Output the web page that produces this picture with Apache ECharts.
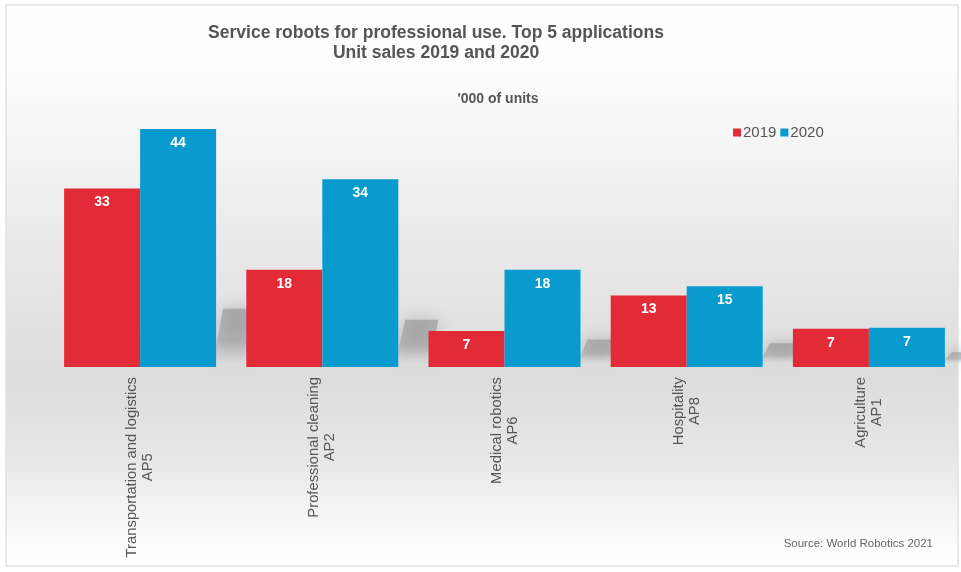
<!DOCTYPE html>
<html>
<head>
<meta charset="utf-8">
<script src="https://cdn.jsdelivr.net/npm/echarts@6/dist/echarts.min.js"></script>
<style>
html,body{margin:0;padding:0;background:#fff;}
#chart{width:961px;height:572px;}
</style>
</head>
<body>
<div id="chart"></div>
<script>
const categories = ['Transportation and logistics', 'Professional cleaning', 'Medical robotics', 'Hospitality', 'Agriculture'];
const codes = ['AP5', 'AP2', 'AP6', 'AP8', 'AP1'];
const seriesNames = ['2019', '2020'];
const sales2019 = [32.7, 17.8, 6.6, 13.1, 7.0];
const sales2020 = [43.6, 34.4, 17.8, 14.8, 7.2];

const FONT = "'Liberation Sans', Arial, sans-serif";
const RED = '#e32a37';
const BLUE = '#0a9bce';
const BAR_W = 76;
const LABEL_SIZE = 14.8;

const chart = echarts.init(document.getElementById('chart'), null, {renderer: 'canvas'});

const shadowData = categories.map((c, i) => [i, Math.max(sales2019[i], sales2020[i])]);

// measure label lines so that the code line is centred under the name line
const mctx = document.createElement('canvas').getContext('2d');
mctx.font = LABEL_SIZE + "px 'Liberation Sans', Arial, sans-serif";
const rich = {};
categories.forEach((c, i) => {
  const w1 = mctx.measureText(c).width;
  const w2 = mctx.measureText(codes[i]).width;
  rich['n' + i] = {fontSize: LABEL_SIZE, lineHeight: 16, color: '#555555', fontFamily: FONT};
  rich['k' + i] = {fontSize: LABEL_SIZE, lineHeight: 16, color: '#555555', fontFamily: FONT,
    padding: [0, Math.max(0, (w1 - w2) / 2), 0, 0]};
});

const option = {
  animation: false,
  textStyle: {fontFamily: FONT},
  graphic: [
    {
      type: 'rect', z: -10, silent: true,
      shape: {x: 6, y: 5, width: 952, height: 561},
      style: {
        fill: {
          type: 'linear', x: 0, y: 0, x2: 0, y2: 1,
          colorStops: [
            {offset: 0, color: '#ffffff'},
            {offset: 0.15, color: '#fbfbfb'},
            {offset: 0.35, color: '#eeeeee'},
            {offset: 0.66, color: '#dcdcdc'},
            {offset: 0.8, color: '#e6e6e6'},
            {offset: 0.95, color: '#fbfbfb'},
            {offset: 1, color: '#ffffff'}
          ]
        },
        stroke: '#e2e2e2', lineWidth: 1.5
      }
    },
    {
      type: 'text', x: 436, y: 23, z: 10, silent: true,
      style: {
        text: 'Service robots for professional use. Top 5 applications\nUnit sales 2019 and 2020',
        font: "bold 17.5px " + FONT, fill: '#555555', textAlign: 'center', lineHeight: 20
      }
    },
    {
      type: 'text', x: 498, y: 92, z: 10, silent: true,
      style: {text: "'000 of units", font: "bold 14px " + FONT, fill: '#555555', textAlign: 'center'}
    },
    {
      type: 'text', x: 933, y: 538, z: 10, silent: true,
      style: {text: 'Source: World Robotics 2021', font: "11.5px " + FONT, fill: '#666666', textAlign: 'right'}
    }
  ],
  legend: {
    data: seriesNames,
    left: 728, top: 120,
    icon: 'rect', itemWidth: 8, itemHeight: 8, itemGap: 4,
    textStyle: {fontSize: 15, color: '#555555', fontFamily: FONT, padding: [0, 0, 0, -3]}
  },
  grid: {left: 49, right: 1, top: 129, bottom: 205, containLabel: false},
  xAxis: {
    type: 'category',
    data: categories,
    axisLine: {show: false},
    axisTick: {show: false},
    axisLabel: {
      rotate: 90, margin: 10, interval: 0,
      color: '#555555', fontSize: LABEL_SIZE, fontFamily: FONT, lineHeight: 16,
      formatter: (v, i) => '{n' + i + '|' + v + '}\n{k' + i + '|' + codes[i] + '}',
      rich: rich
    }
  },
  yAxis: {type: 'value', min: 0, max: 43.6, show: false},
  series: [
    {
      type: 'custom', name: 'shadow', z: 1, silent: true,
      data: shadowData,
      renderItem: function (params, api) {
        const idx = api.value(0);
        const v = api.value(1);
        const b = api.coord([idx, 0]);
        const t = api.coord([idx, v]);
        const base = b[1];
        const h = (base - t[1]) * 0.22 + 6;
        const xr = b[0] + BAR_W;
        return {
          type: 'polygon',
          shape: {points: [[xr - 3, base - 4], [xr + 7, base - h], [xr + 40, base - h], [xr + 32, base - 4]]},
          style: {
            fill: {
              type: 'linear', x: 0, y: 0, x2: 0, y2: 1,
              colorStops: [
                {offset: 0, color: 'rgba(145,145,145,0.6)'},
                {offset: 0.6, color: 'rgba(155,155,155,0.5)'},
                {offset: 1, color: 'rgba(200,200,200,0.1)'}
              ]
            },
            shadowBlur: 16, shadowColor: 'rgba(140,140,140,0.8)'
          }
        };
      }
    },
    {
      name: seriesNames[0], type: 'bar', z: 3, barWidth: BAR_W, barGap: '0%',
      data: sales2019,
      itemStyle: {color: RED},
      label: {show: true, position: 'insideTop', distance: 7, color: '#ffffff', fontWeight: 'bold', fontSize: 14, fontFamily: FONT,
        formatter: p => Math.round(p.value)}
    },
    {
      name: seriesNames[1], type: 'bar', z: 3, barWidth: BAR_W, barGap: '0%',
      data: sales2020,
      itemStyle: {color: BLUE},
      label: {show: true, position: 'insideTop', distance: 7, color: '#ffffff', fontWeight: 'bold', fontSize: 14, fontFamily: FONT,
        formatter: p => Math.round(p.value)}
    }
  ]
};
chart.setOption(option);
</script>
</body>
</html>
